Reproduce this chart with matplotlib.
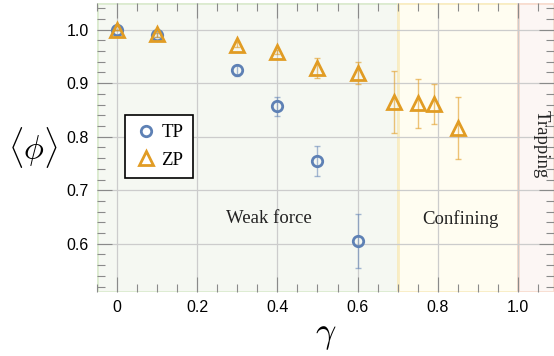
import numpy as np
import matplotlib.pyplot as plt
from matplotlib.ticker import MultipleLocator, FixedLocator

# data
tp_x = [0.0, 0.1, 0.3, 0.4, 0.5, 0.6]
tp_y = [1.000, 0.990, 0.924, 0.857, 0.755, 0.605]
tp_err = [0.0, 0.004, 0.010, 0.018, 0.028, 0.050]

zp_x = [0.0, 0.1, 0.3, 0.4, 0.5, 0.6, 0.69, 0.75, 0.79, 0.85]
zp_y = [1.000, 0.991, 0.972, 0.958, 0.928, 0.919, 0.865, 0.862, 0.861, 0.817]
zp_err = [0.0, 0.004, 0.004, 0.004, 0.019, 0.020, 0.058, 0.045, 0.038, 0.058]

regions = [(-0.05, 0.70, "Weak force"), (0.70, 1.00, "Confining"), (1.00, 1.09, "Trapping")]
region_fill = ["#f5f8f2", "#fffdf1", "#fcf6f4"]
region_edge = ["#dcebd0", "#f9edc3", "#f8ddd0"]

blue = "#5e81b5"
orange = "#e19c24"

plt.rcParams['mathtext.fontset'] = 'cm'

fig = plt.figure(figsize=(5.54, 3.56), dpi=100)
ax = fig.add_axes([0.175, 0.18, 0.825, 0.812])

ax.set_xlim(-0.05, 1.09)
ax.set_ylim(0.51, 1.05)

for (x0, x1, name), fc, ec in zip(regions, region_fill, region_edge):
    ax.axvspan(x0, x1, facecolor=fc, edgecolor=ec, lw=2, zorder=0)

ax.text(0.38, 0.647, "Weak force", family="Liberation Serif", fontsize=13.5,
        ha="center", va="center", color="#222222")
ax.text(0.856, 0.647, "Confining", family="Liberation Serif", fontsize=13.5,
        ha="center", va="center", color="#222222")
ax.text(1.057, 0.786, "Trapping", family="Liberation Serif", fontsize=13.5,
        ha="center", va="center", rotation=-90, color="#222222")

for v in [0, 0.2, 0.4, 0.6, 0.8, 1.0]:
    ax.axvline(v, color="#cccccc", lw=0.9, zorder=0.5)
for v in [0.6, 0.7, 0.8, 0.9, 1.0]:
    ax.axhline(v, color="#cccccc", lw=0.9, zorder=0.5)

ax.errorbar(tp_x, tp_y, yerr=tp_err, fmt="none", ecolor=blue, alpha=0.55,
            elinewidth=1, capsize=2.5, capthick=1, zorder=2)
ax.errorbar(zp_x, zp_y, yerr=zp_err, fmt="none", ecolor=orange, alpha=0.6,
            elinewidth=1, capsize=2.5, capthick=1, zorder=2)
ax.plot(tp_x, tp_y, "o", ms=7.5, mfc="none", mec=blue, mew=2, label="TP", zorder=3)
ax.plot(zp_x, zp_y, "^", ms=9.5, mfc="none", mec=orange, mew=2, label="ZP", zorder=3)

leg = ax.legend(loc="lower left", bbox_to_anchor=(0.061, 0.394), borderaxespad=0,
                fancybox=False, framealpha=1, edgecolor="black", borderpad=0.5,
                handletextpad=0.15, handlelength=1.3, labelspacing=0.55,
                prop={"family": "Liberation Serif", "size": 13.5})
leg.get_frame().set_linewidth(1.2)

for s in ax.spines.values():
    s.set_visible(False)

ax.xaxis.set_major_locator(FixedLocator([0, 0.2, 0.4, 0.6, 0.8, 1.0]))
ax.xaxis.set_minor_locator(MultipleLocator(0.05))
ax.yaxis.set_major_locator(FixedLocator([0.6, 0.7, 0.8, 0.9, 1.0]))
ax.yaxis.set_minor_locator(MultipleLocator(0.02))
ax.set_xticklabels(["0", "0.2", "0.4", "0.6", "0.8", "1.0"])
ax.set_yticklabels(["0.6", "0.7", "0.8", "0.9", "1.0"])
ax.tick_params(which="both", direction="in", top=True, right=True,
               color="#8a8a8a", width=0.8)
ax.tick_params(which="major", length=11, labelsize=11.5, pad=6)
ax.tick_params(which="minor", length=5.5)
for lab in ax.get_xticklabels() + ax.get_yticklabels():
    lab.set_family("Liberation Sans")

ax.set_xlabel(r"$\gamma$", fontsize=26, labelpad=2)
ax.set_ylabel(r"$\langle\phi\rangle$", fontsize=24, rotation=0, labelpad=24,
              va="center")

fig.savefig("out.png", dpi=100)
